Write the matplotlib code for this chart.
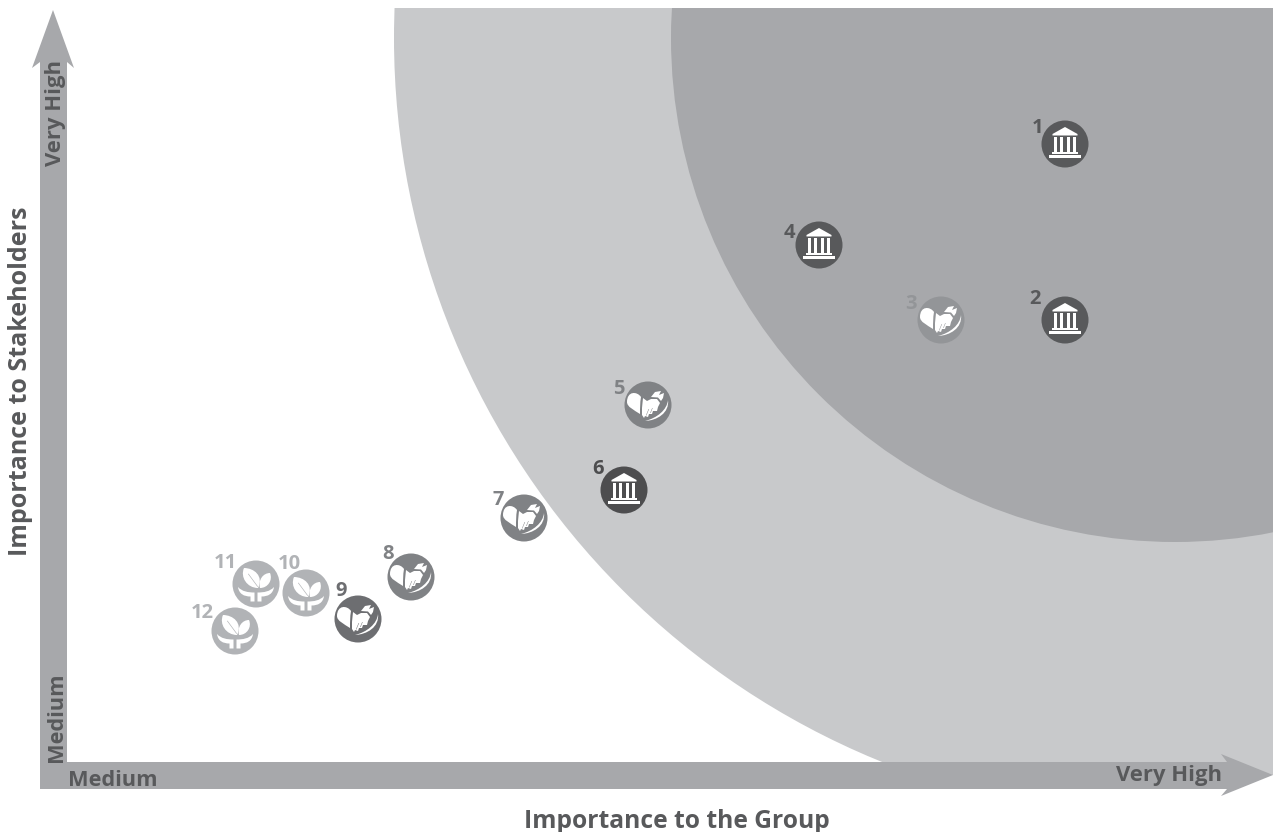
import matplotlib
matplotlib.use("Agg")
import matplotlib.pyplot as plt
from matplotlib.patches import Circle, Rectangle, Polygon, PathPatch
from matplotlib.path import Path
from matplotlib.transforms import Affine2D

plt.rcParams['font.family'] = ['Open Sans', 'DejaVu Sans']
plt.rcParams['font.weight'] = 'bold'

# Topic scores on the chart's own scale, with the y scale running downwards
topic_ids = [1, 2, 3, 4, 5, 6, 7, 8, 9, 10, 11, 12]
group_score = [1065, 1065, 941, 819, 648, 624, 524, 411, 358, 306, 256, 235]
stakeholder_score = [144, 320, 320, 245, 405, 490, 518, 577, 619, 593, 584, 631]
topic_pillar = ['gov', 'gov', 'soc', 'gov', 'soc', 'gov', 'soc', 'soc', 'soc', 'env', 'env', 'env']
topic_colors = ['#58595b', '#58595b', '#939598', '#58595b', '#808285', '#4d4d4f',
                '#808285', '#808285', '#6d6e71', '#b1b3b6', '#b1b3b6', '#b1b3b6']
label_dx = [-27, -30, -30, -30, -29, -26, -26, -23, -17, -17, -31, -33]
label_dy = [-16, -21, -16, -12, -16, -21, -18, -23, -28, -29, -21, -18]

zone_center = (1175, 38)
zone_radii = [781, 504]
zone_colors = ['#c8c9cb', '#a7a8ab']

BAND = '#a7a8ab'
TEXT = '#58595b'
MARKER_R = 23.5

fig = plt.figure(figsize=(12.73, 8.32), dpi=100)
ax = fig.add_axes([0, 0, 1, 1])
ax.set_xlim(0, 1273)
ax.set_ylim(832, 0)
ax.axis('off')

# Priority zones
for radius, color in zip(zone_radii, zone_colors):
    zone = Circle(zone_center, radius, fc=color, ec='none', zorder=1)
    ax.add_patch(zone)
    zone.set_clip_path(Rectangle((0, 8), 1273, 767, transform=ax.transData))

# Axis arrows
ax.add_patch(Polygon([(40, 789), (40, 62), (32, 68), (53, 10), (74, 68), (67, 62), (67, 762),
                      (1227, 762), (1221, 754), (1273, 775), (1221, 796), (1227, 789)],
                     closed=True, fc=BAND, ec='none', zorder=2))


def place(vertices, codes, x, y, color, order=4):
    path = Path(vertices, codes).transformed(Affine2D().translate(x, y))
    ax.add_patch(PathPatch(path, fc=color, ec='none', lw=0, zorder=order))


def poly(points):
    return list(points) + [points[0]], [Path.MOVETO] + [Path.LINETO] * (len(points) - 1) + [Path.CLOSEPOLY]


def draw_building(x, y):
    white = 'white'
    place(*poly([(0, -17), (12.5, -10), (12.5, -8.5), (-12.5, -8.5), (-12.5, -10)]), x, y, white)
    for cx in (-9.6, -3.2, 3.2, 9.6):
        place(*poly([(cx - 1.5, -7), (cx + 1.5, -7), (cx + 1.5, 8), (cx - 1.5, 8)]), x, y, white)
    place(*poly([(-13, 8), (13, 8), (13, 10.3), (-13, 10.3)]), x, y, white)
    place(*poly([(-16, 11), (16, 11), (16, 13.5), (-16, 13.5)]), x, y, white)


def draw_heart(x, y, color):
    # solid left lobe
    place([(-7, -8), (-11, -14), (-21, -14), (-21, -3), (-21, 2), (-14, 5), (-8, 9),
           (-8, 3), (-8, -2), (-7, -8), (-7, -8)],
          [Path.MOVETO] + [Path.CURVE4] * 9 + [Path.CLOSEPOLY], x, y, 'white')
    # clasped lower hand
    place(*poly([(-5, -7), (-1, -4), (3, -6), (9, -6), (12, -2), (10, 2), (9, 6), (5, 6), (4, 9),
                 (1, 9), (0, 12), (-3, 11), (-4, 13), (-6, 10), (-6, 3)]), x, y, 'white')
    place(*poly([(0.6, 4), (1.1, 4), (-1.6, 10.5), (-2.1, 10.5)]), x, y, color, 5)
    place(*poly([(4.2, 3), (4.7, 3), (2.6, 8), (2.1, 8)]), x, y, color, 5)
    # fingers of the upper hand
    place(*poly([(3, -8), (7, -13), (13, -14), (11, -10), (16, -12), (15, -7), (13, -4), (10, -7.5)]),
          x, y, 'white')
    # wrist curving along the lower right
    place([(20, -5), (19, 5), (9, 13), (-3, 16), (9, 15.5), (21.5, 8), (20, -5), (20, -5)],
          [Path.MOVETO] + [Path.CURVE4] * 6 + [Path.CLOSEPOLY], x, y, 'white')


def draw_plant(x, y, color):
    leaf_codes = [Path.MOVETO] + [Path.CURVE4] * 6 + [Path.CLOSEPOLY]
    place([(2, 4), (-9, 4), (-16, -7), (-12, -16), (-2, -16), (8, -8), (2, 4), (2, 4)], leaf_codes, x, y, 'white')
    place([(4, 4), (12, 4), (17, -4), (14, -11), (7, -11), (2, -4), (4, 4), (4, 4)], leaf_codes, x, y, 'white')
    # leaf vein
    place(*poly([(-8, -10), (-7.5, -10.4), (2, 2.5), (1.5, 2.9)]), x, y, color, 5)
    # cupped hands
    codes = [Path.MOVETO, Path.CURVE4, Path.CURVE4, Path.CURVE4, Path.LINETO, Path.LINETO, Path.LINETO,
             Path.CURVE4, Path.CURVE4, Path.CURVE4, Path.CLOSEPOLY]
    for side in (-1, 1):
        verts = [(-18, 3), (-14, 7.5), (-8, 8.5), (-1.5, 8.5), (-1.5, 17.5), (-5.5, 17.5), (-5.5, 12.5),
                 (-12, 12.5), (-17, 10), (-18, 3), (-18, 3)]
        verts = [(-vx * side, vy) for vx, vy in verts]
        place(verts, codes, x, y, 'white')


# Topic markers with their numbers
for i, topic in enumerate(topic_ids):
    x, y = group_score[i], stakeholder_score[i]
    color = topic_colors[i]
    ax.add_patch(Circle((x, y), MARKER_R, fc=color, ec='none', zorder=3))
    if topic_pillar[i] == 'gov':
        draw_building(x, y)
    elif topic_pillar[i] == 'soc':
        draw_heart(x, y, color)
    else:
        draw_plant(x, y, color)
    ax.text(x + label_dx[i], y + label_dy[i], str(topic), color=color, fontsize=14.5,
            ha='center', va='center', zorder=7)

# Axis text
ax.text(21, 381, 'Importance to Stakeholders', rotation=90, color=TEXT, fontsize=18,
        ha='center', va='center', zorder=7)
ax.text(677, 822, 'Importance to the Group', color=TEXT, fontsize=17.7,
        ha='center', va='center', zorder=7)
ax.text(56, 113, 'Very High', rotation=90, color=TEXT, fontsize=15.8,
        ha='center', va='center', zorder=7)
ax.text(56, 717, 'Medium', rotation=90, color=TEXT, fontsize=15.7,
        ha='center', va='center', zorder=7)
ax.text(68, 780, 'Medium', color=TEXT, fontsize=15.7, ha='left', va='center', zorder=7)
ax.text(1222, 775, 'Very High', color=TEXT, fontsize=15.8, ha='right', va='center', zorder=7)

fig.savefig('out.png', dpi=100, facecolor='white')
